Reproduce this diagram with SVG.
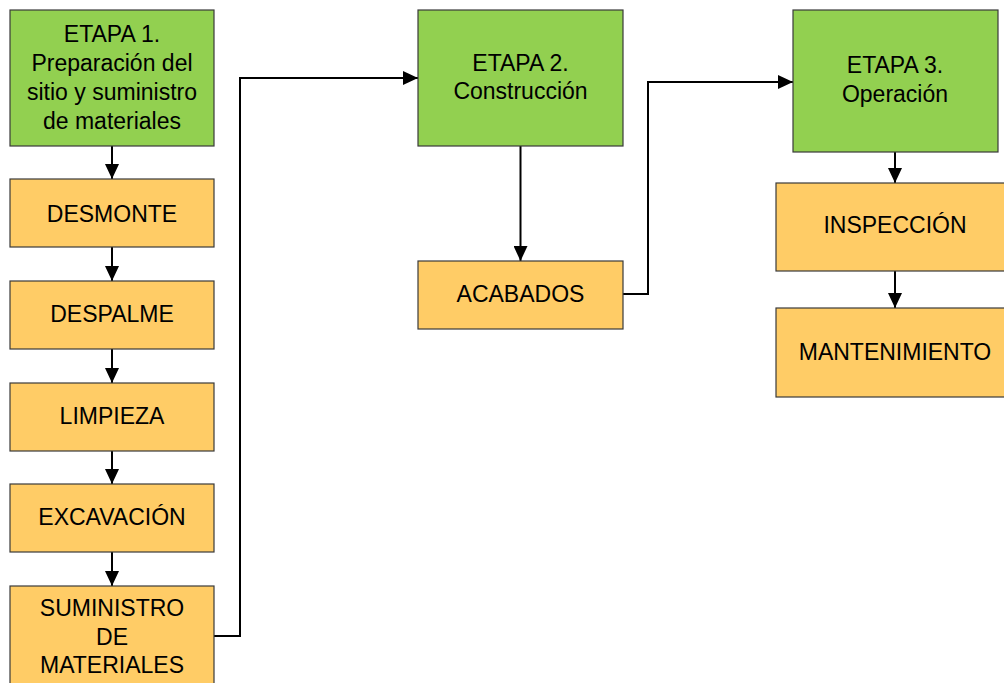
<svg xmlns="http://www.w3.org/2000/svg" width="1004" height="683" viewBox="0 0 1004 683">
<style>
.g{fill:#92D050;stroke:#3a3a3a;stroke-width:1.2}
.o{fill:#FFCC66;stroke:#3a3a3a;stroke-width:1.2}
text{font-family:"Liberation Sans",Arial,sans-serif;font-size:23px;fill:#000;text-anchor:middle}
.c{fill:none;stroke:#000;stroke-width:2}
</style>
<defs>
<marker id="ah" markerUnits="userSpaceOnUse" markerWidth="15" markerHeight="14" refX="15" refY="7" orient="auto">
<path d="M0,0 L15,7 L0,14 z" fill="#000"/>
</marker>
</defs>
<rect width="1004" height="683" fill="#fff"/>
<g id="connectors">
<path class="c" d="M112,146 V179" marker-end="url(#ah)"/>
<path class="c" d="M112,247 V281" marker-end="url(#ah)"/>
<path class="c" d="M112,349 V383" marker-end="url(#ah)"/>
<path class="c" d="M112,451 V484" marker-end="url(#ah)"/>
<path class="c" d="M112,552 V586" marker-end="url(#ah)"/>
<path class="c" d="M214,636 H240 V78 H418" marker-end="url(#ah)"/>
<path class="c" d="M520.5,146 V261" marker-end="url(#ah)"/>
<path class="c" d="M623,294 H648 V82 H793" marker-end="url(#ah)"/>
<path class="c" d="M895,152 V183" marker-end="url(#ah)"/>
<path class="c" d="M895,271 V308" marker-end="url(#ah)"/>
</g>
<g id="etapa1">
<rect class="g" x="10" y="10" width="204" height="136"/>
<text x="112" y="41.7">ETAPA 1.</text>
<text x="112" y="71">Preparación del</text>
<text x="112" y="100">sitio y suministro</text>
<text x="112" y="128.5">de materiales</text>
</g>
<g id="desmonte">
<rect class="o" x="10" y="179" width="204" height="68"/>
<text x="112" y="221.5">DESMONTE</text>
</g>
<g id="despalme">
<rect class="o" x="10" y="281" width="204" height="68"/>
<text x="112" y="321.7">DESPALME</text>
</g>
<g id="limpieza">
<rect class="o" x="10" y="383" width="204" height="68"/>
<text x="112" y="424">LIMPIEZA</text>
</g>
<g id="excavacion">
<rect class="o" x="10" y="484" width="204" height="68"/>
<text x="112" y="525">EXCAVACIÓN</text>
</g>
<g id="suministro">
<rect class="o" x="10" y="586" width="204" height="105"/>
<text x="112" y="615.7">SUMINISTRO</text>
<text x="112" y="645">DE</text>
<text x="112" y="673.3">MATERIALES</text>
</g>
<g id="etapa2">
<rect class="g" x="418" y="10" width="205" height="136"/>
<text x="520.5" y="71">ETAPA 2.</text>
<text x="520.5" y="99">Construcción</text>
</g>
<g id="acabados">
<rect class="o" x="418" y="261" width="205" height="68"/>
<text x="520.5" y="301.7">ACABADOS</text>
</g>
<g id="etapa3">
<rect class="g" x="793" y="10" width="205" height="142"/>
<text x="895" y="73.3">ETAPA 3.</text>
<text x="895" y="102.3">Operación</text>
</g>
<g id="inspeccion">
<rect class="o" x="776" y="183" width="238" height="88"/>
<text x="895" y="233.3">INSPECCIÓN</text>
</g>
<g id="mantenimiento">
<rect class="o" x="776" y="308" width="238" height="89"/>
<text x="895" y="360">MANTENIMIENTO</text>
</g>
</svg>
